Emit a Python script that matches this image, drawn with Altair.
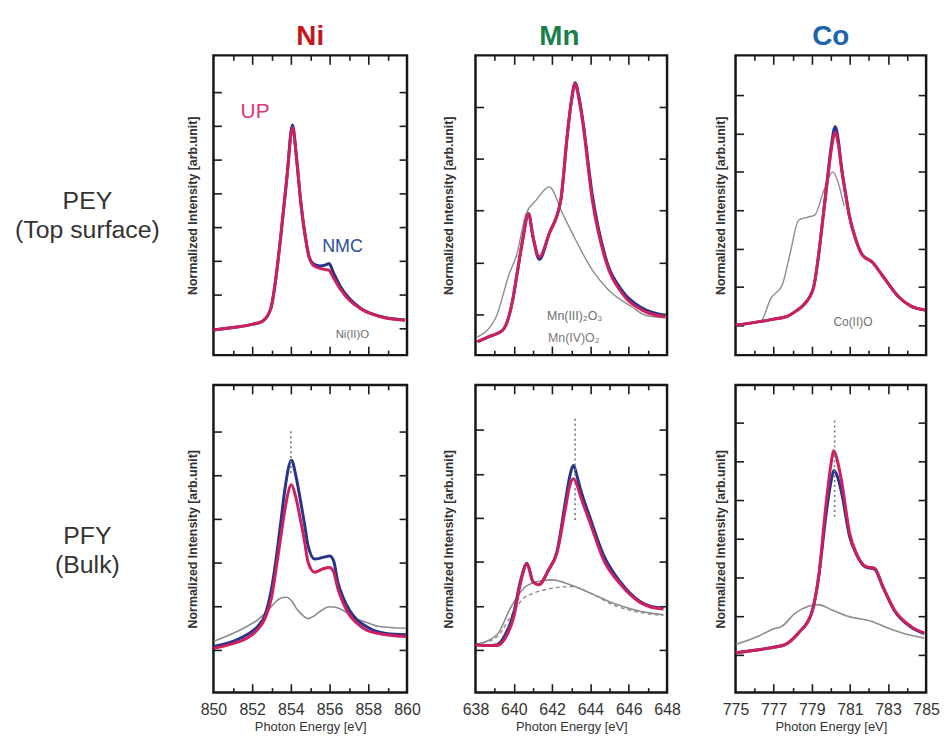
import altair as alt
import pandas as pd

# ---------------- data ----------------
ELEMENTS = ["Ni", "Mn", "Co"]
ROW_LABELS = ["PEY\n(Top surface)", "PFY\n(Bulk)"]

# --- PEY (top surface) ---
NI_PEY_E = [850.0, 851.0, 852.0, 852.55, 852.97, 853.25, 853.5, 853.8, 854.08, 854.3, 854.5,
            854.75, 854.95, 855.2, 855.5, 855.8, 855.97, 856.2, 856.55, 857.0, 857.6, 858.6, 859.9]
NI_PEY_NMC = [0.95, 1.03, 1.12, 1.22, 1.6, 2.6, 3.85, 5.5, 7.02, 6.0, 4.8,
              3.7, 3.1, 2.9, 2.85, 2.88, 2.92, 2.65, 2.25, 1.9, 1.6, 1.36, 1.25]
NI_PEY_UP = [0.95, 1.03, 1.12, 1.22, 1.6, 2.6, 3.85, 5.5, 6.95, 6.0, 4.8,
             3.7, 3.1, 2.85, 2.78, 2.74, 2.72, 2.5, 2.17, 1.85, 1.58, 1.35, 1.24]

MN_PEY_E = [638.1, 638.8, 639.42, 639.94, 640.2, 640.46, 640.77, 641.0, 641.33, 641.85, 642.45,
            642.8, 643.0, 643.2, 643.4, 643.58, 644.1, 644.79, 645.66, 646.7, 647.91]
MN_PEY_NMC = [0.47, 0.58, 0.69, 1.27, 1.85, 2.43, 2.94, 2.5, 2.06, 2.56, 3.2,
              4.49, 5.1, 5.47, 5.2, 4.8, 3.3, 2.1, 1.45, 1.12, 0.98]
MN_PEY_UP = [0.47, 0.58, 0.69, 1.27, 1.85, 2.43, 2.94, 2.5, 2.11, 2.56, 3.2,
             4.49, 5.1, 5.45, 5.15, 4.75, 3.2, 2.04, 1.40, 1.08, 0.95]
MN_PEY_REF_E = [638.1, 639.08, 639.77, 640.12, 640.64, 641.16, 641.85, 642.55, 643.24, 644.1,
                644.97, 646.18, 646.87, 647.91]
MN_PEY_REF = [0.56, 0.95, 1.79, 2.11, 2.94, 3.2, 3.46, 2.94, 2.43, 1.85,
              1.46, 1.14, 0.98, 0.93]

CO_PEY_E = [775.0, 776.34, 777.0, 777.71, 778.2, 778.57, 779.08, 779.35, 779.6, 779.85, 780.03,
            780.23, 780.4, 780.54, 780.75, 780.97, 781.3, 781.66, 782.17, 782.69, 783.54, 784.23, 784.95]
CO_PEY_NMC = [1.0, 1.1, 1.16, 1.23, 1.38, 1.53, 1.96, 2.8, 3.86, 4.95, 5.7,
              6.18, 5.8, 5.2, 4.5, 3.86, 3.25, 2.83, 2.65, 2.31, 1.75, 1.49, 1.4]
CO_PEY_UP = [1.0, 1.1, 1.16, 1.23, 1.38, 1.53, 1.96, 2.8, 3.86, 4.9, 5.6,
             6.03, 5.7, 5.16, 4.5, 3.86, 3.25, 2.83, 2.65, 2.31, 1.75, 1.49, 1.4]
CO_PEY_REF_E = [775.0, 776.34, 776.85, 777.45, 777.88, 778.31, 778.8, 779.17, 779.6, 780.11, 780.4, 780.7]
CO_PEY_REF = [1.01, 1.12, 1.70, 2.05, 2.91, 3.74, 3.82, 3.88, 4.47, 5.0, 4.7, 4.1]

# --- PFY (bulk) ---
NI_PFY_E = [850.0, 851.0, 851.72, 852.3, 852.66, 853.0, 853.26, 853.5, 853.69, 854.03, 854.25,
            854.46, 854.7, 854.89, 855.23, 855.66, 856.0, 856.2, 856.43, 856.7, 857.03, 857.4,
            857.89, 858.92, 859.95]
NI_PFY_NMC = [1.08, 1.2, 1.35, 1.55, 1.8, 2.4, 3.16, 4.0, 4.67, 5.34, 5.0,
              4.51, 3.9, 3.38, 3.08, 3.12, 3.15, 3.05, 2.55, 2.2, 1.91, 1.7,
              1.54, 1.38, 1.35]
NI_PFY_UP = [1.04, 1.15, 1.27, 1.48, 1.72, 2.2, 2.93, 3.65, 4.21, 4.78, 4.5,
             4.06, 3.5, 3.01, 2.78, 2.86, 2.89, 2.8, 2.40, 2.08, 1.8, 1.62,
             1.46, 1.35, 1.31]
NI_PFY_REF_E = [850.0, 851.0, 851.72, 852.3, 852.75, 853.1, 853.43, 853.77, 854.05, 854.29, 854.6,
                854.89, 855.2, 855.49, 856.0, 856.3, 856.69, 857.0, 857.38, 858.0, 858.58, 859.95]
NI_PFY_REF = [1.2, 1.38, 1.54, 1.7, 1.88, 2.05, 2.18, 2.21, 2.12, 1.95, 1.8,
              1.72, 1.78, 1.88, 1.99, 1.98, 1.91, 1.82, 1.72, 1.62, 1.54, 1.5]

MN_PFY_E = [638.0, 638.6, 639.13, 639.56, 640.0, 640.34, 640.69, 641.0, 641.3, 641.82, 642.25,
            642.69, 642.9, 643.12, 643.3, 643.47, 643.99, 644.68, 645.55, 646.59, 647.1, 647.81]
MN_PFY_NMC = [1.12, 1.1, 1.12, 1.35, 1.85, 2.55, 2.97, 2.55, 2.48, 2.82, 3.23,
              4.36, 4.9, 5.19, 4.95, 4.67, 3.99, 3.16, 2.55, 2.1, 2.0, 1.95]
MN_PFY_UP = [1.12, 1.1, 1.1, 1.27, 1.75, 2.5, 2.95, 2.55, 2.48, 2.82, 3.2,
             4.2, 4.7, 4.89, 4.75, 4.51, 3.88, 3.05, 2.5, 2.08, 1.98, 1.93]
MN_PFY_REF_E = [638.0, 639.13, 639.82, 640.52, 641.21, 641.99, 642.95, 643.99, 645.2, 646.59, 647.81]
MN_PFY_REF = [1.12, 1.35, 1.95, 2.4, 2.55, 2.59, 2.48, 2.29, 2.06, 1.88, 1.8]
MN_PFY_REF2_E = [638.0, 639.13, 639.82, 640.52, 641.04, 641.99, 642.95, 643.99, 645.2, 646.59, 647.81]
MN_PFY_REF2 = [1.12, 1.3, 1.75, 2.18, 2.29, 2.4, 2.44, 2.29, 2.02, 1.85, 1.78]

CO_PFY_E = [775.0, 776.39, 777.0, 777.6, 778.3, 778.99, 779.34, 779.77, 780.0, 780.16, 780.35,
            780.56, 780.99, 781.34, 781.86, 782.29, 782.73, 783.33, 784.2, 784.9]
CO_PFY_NMC = [1.06, 1.15, 1.2, 1.27, 1.57, 2.08, 2.94, 4.7, 5.45, 5.76, 5.6,
              5.2, 4.05, 3.6, 3.26, 3.22, 2.75, 2.15, 1.72, 1.55]
CO_PFY_UP = [1.06, 1.15, 1.2, 1.27, 1.57, 2.08, 2.94, 4.99, 5.9, 6.27, 6.0,
             5.5, 4.14, 3.62, 3.28, 3.24, 2.77, 2.17, 1.74, 1.57]
CO_PFY_REF_E = [775.0, 776.22, 776.91, 777.43, 778.13, 778.82, 779.34, 780.03, 780.9, 782.12,
                782.99, 784.03, 784.9]
CO_PFY_REF = [1.27, 1.49, 1.66, 1.74, 2.08, 2.26, 2.3, 2.17, 2.0, 1.87, 1.7, 1.53, 1.44]

# peak markers (dotted vertical lines, PFY row)
PEAK_E = [854.0, 643.2, 780.2]
PEAK_TOP = [6.0, 6.25, 7.05]
PEAK_BOTTOM = [5.0, 3.9, 4.56]

# axes
X_DOMAINS = [[850, 860], [638, 648], [775, 785]]
X_MAJOR = [[850, 852, 854, 856, 858, 860], [638, 640, 642, 644, 646, 648], [775, 777, 779, 781, 783, 785]]
X_MINOR = [[851, 853, 855, 857, 859], [639, 641, 643, 645, 647], [776, 778, 780, 782, 784]]
PEY_Y_DOMAINS = [[0.21, 9.08], [0.21, 6.0], [0.22, 8.04]]
PEY_Y_TICKS = [[1, 2, 3, 4, 5, 6, 7, 8], [1, 2, 3, 4, 5], [1, 2, 3, 4, 5, 6, 7]]
PFY_Y_DOMAINS = [[0.03, 7.06], [0.03, 7.02], [0.03, 7.97]]
PFY_Y_TICKS = [[1, 2, 3, 4, 5, 6], [1, 2, 3, 4, 5, 6], [1, 2, 3, 4, 5, 6, 7]]

# annotations (PEY row)
ANNOT_TEXT = ["UP", "NMC", "Ni(II)O", "Mn(III)₂O₃", "Mn(IV)O₂", "Co(II)O"]
ANNOT_PANEL = [0, 0, 0, 1, 1, 2]
ANNOT_E = [852.15, 856.67, 857.18, 643.18, 643.13, 781.16]
ANNOT_I = [7.41, 3.42, 0.8, 0.96, 0.54, 1.08]

# ---------------- styles ----------------
FONT = "Arial"
C_UP = "#cf1f5e"
C_NMC = "#27348b"
C_REF = "#8c8c8c"
C_TXT = "#333333"
TITLE_COLORS = ["#c4161c", "#1b7f4d", "#1b64b0"]
TITLE_DX = [0, -12, 0]
ANNOT_COLOR = ["#d8387a", "#2d4c9c", "#6f6f6f", "#6f6f6f", "#7a7a7a", "#6f6f6f"]
ANNOT_SIZE = [21, 18, 11.5, 12.5, 12.5, 12]
YTITLE_PAD = [14, 20, 8]

WIDTHS = [195, 193, 192]
H_ROWS = [302, 310]
LABEL_W = 138
LABEL_Y = [147, 152]
COL_SPACING = 69
ROW_SPACING = 30

CURVES = {
    (0, 0): [(NI_PEY_E, NI_PEY_NMC, C_NMC, 3, None), (NI_PEY_E, NI_PEY_UP, C_UP, 3, None)],
    (0, 1): [(MN_PEY_REF_E, MN_PEY_REF, C_REF, 1.4, None),
             (MN_PEY_E, MN_PEY_NMC, C_NMC, 3, None), (MN_PEY_E, MN_PEY_UP, C_UP, 3, None)],
    (0, 2): [(CO_PEY_REF_E, CO_PEY_REF, C_REF, 1.4, None),
             (CO_PEY_E, CO_PEY_NMC, C_NMC, 3, None), (CO_PEY_E, CO_PEY_UP, C_UP, 3, None)],
    (1, 0): [(NI_PFY_REF_E, NI_PFY_REF, C_REF, 1.6, None),
             (NI_PFY_E, NI_PFY_NMC, C_NMC, 3, None), (NI_PFY_E, NI_PFY_UP, C_UP, 3, None)],
    (1, 1): [(MN_PFY_REF_E, MN_PFY_REF, C_REF, 1.6, None),
             (MN_PFY_REF2_E, MN_PFY_REF2, C_REF, 1.4, [4, 3]),
             (MN_PFY_E, MN_PFY_NMC, C_NMC, 3, None), (MN_PFY_E, MN_PFY_UP, C_UP, 3, None)],
    (1, 2): [(CO_PFY_REF_E, CO_PFY_REF, C_REF, 1.6, None),
             (CO_PFY_E, CO_PFY_NMC, C_NMC, 3, None), (CO_PFY_E, CO_PFY_UP, C_UP, 3, None)],
}


def tick_axis(orient, offset, values, size):
    return alt.Axis(orient=orient, offset=offset, values=values, tickSize=size, tickWidth=1.6,
                    tickColor="#1a1a1a", labels=False, domain=False, grid=False, title=None)


def make_panel(row, i):
    H = H_ROWS[row]
    W = WIDTHS[i]
    xdom = X_DOMAINS[i]
    ydom = PEY_Y_DOMAINS[i] if row == 0 else PFY_Y_DOMAINS[i]
    yt = PEY_Y_TICKS[i] if row == 0 else PFY_Y_TICKS[i]
    xs = alt.Scale(domain=xdom, nice=False, zero=False)
    ys = alt.Scale(domain=ydom, nice=False, zero=False)

    layers = []
    for (ex, iy, col, sw, dash) in CURVES[(row, i)]:
        df = pd.DataFrame({"E": ex, "I": iy})
        kw = dict(color=col, strokeWidth=sw, clip=True, interpolate="monotone")
        if dash:
            kw["strokeDash"] = dash
        layers.append(alt.Chart(df).mark_line(**kw).encode(
            x=alt.X("E:Q", scale=xs, axis=None), y=alt.Y("I:Q", scale=ys, axis=None)))

    if row == 1:
        pk = pd.DataFrame({"E": [PEAK_E[i]], "top": [PEAK_TOP[i]], "bot": [PEAK_BOTTOM[i]]})
        layers.append(alt.Chart(pk).mark_rule(color="#777777", strokeWidth=1.6, strokeDash=[2, 3]).encode(
            x=alt.X("E:Q", scale=xs, axis=None), y=alt.Y("top:Q", scale=ys, axis=None), y2="bot:Q"))
    else:
        for k, txt in enumerate(ANNOT_TEXT):
            if ANNOT_PANEL[k] != i:
                continue
            adf = pd.DataFrame({"E": [ANNOT_E[k]], "I": [ANNOT_I[k]], "t": [txt]})
            layers.append(alt.Chart(adf).mark_text(
                color=ANNOT_COLOR[k], fontSize=ANNOT_SIZE[k], font=FONT, align="center",
                baseline="middle").encode(
                x=alt.X("E:Q", scale=xs, axis=None), y=alt.Y("I:Q", scale=ys, axis=None), text="t:N"))

    frame_df = pd.DataFrame({"E": xdom, "I": ydom})
    base = alt.Chart(frame_df).mark_line(strokeOpacity=0)

    if row == 1:
        xaxis = alt.Axis(orient="bottom", values=X_MAJOR[i], tickSize=0, domain=False, grid=False,
                         labels=True, labelFontSize=16, labelColor=C_TXT, labelPadding=9,
                         labelFont=FONT, labelFlush=False, format="d",
                         title="Photon Energy [eV]", titleFontSize=13, titleFontWeight="normal",
                         titleColor=C_TXT, titleFont=FONT, titlePadding=3)
    else:
        xaxis = alt.Axis(orient="bottom", values=X_MAJOR[i], tickSize=0, domain=False, grid=False,
                         labels=False, title=None)
    yaxis = alt.Axis(orient="left", ticks=False, labels=False, domain=False, grid=False,
                     title="Normalized Intensity [arb.unit]", titleFontSize=12.5,
                     titleFontWeight="bold", titleColor=C_TXT, titleFont=FONT,
                     titlePadding=YTITLE_PAD[i])
    layers.append(base.encode(x=alt.X("E:Q", scale=xs, axis=xaxis),
                              y=alt.Y("I:Q", scale=ys, axis=yaxis)))

    inner_major = [v for v in X_MAJOR[i] if xdom[0] < v < xdom[1]]
    for orient, vals, size in [("top", inner_major, 9), ("top", X_MINOR[i], 5),
                               ("bottom", inner_major, 9), ("bottom", X_MINOR[i], 5)]:
        layers.append(base.encode(x=alt.X("E:Q", scale=xs, axis=tick_axis(orient, -H, vals, size)),
                                  y=alt.Y("I:Q", scale=ys, axis=None)))
    for orient in ["right", "left"]:
        layers.append(base.encode(x=alt.X("E:Q", scale=xs, axis=None),
                                  y=alt.Y("I:Q", scale=ys, axis=tick_axis(orient, -W, yt, 8))))

    ch = alt.layer(*layers).resolve_axis(x="independent", y="independent").properties(
        width=W, height=H, view=alt.ViewBackground(stroke="#161616", strokeWidth=2.5))
    if row == 0:
        ch = ch.properties(title=alt.TitleParams(
            text=ELEMENTS[i], color=TITLE_COLORS[i], fontSize=28, fontWeight="bold", font=FONT,
            offset=4, anchor="middle", dx=TITLE_DX[i]))
    return ch


def make_label(row):
    df = pd.DataFrame({"t": [ROW_LABELS[row]]})
    return alt.Chart(df).mark_text(lineBreak="\n", fontSize=25, font=FONT, color=C_TXT, align="center",
                                   baseline="middle", lineHeight=29).encode(
        text="t:N", x=alt.value(80), y=alt.value(LABEL_Y[row])).properties(
        width=LABEL_W, height=H_ROWS[row], view=alt.ViewBackground(strokeOpacity=0))


cells = []
for r in range(2):
    cells.append(make_label(r))
    cells.extend(make_panel(r, i) for i in range(3))

chart = alt.concat(
    *cells, columns=4, spacing=alt.RowColnumber(row=ROW_SPACING, column=COL_SPACING),
    bounds="flush", align="each"
).properties(
    padding={"left": 0, "top": 10, "right": 0, "bottom": 0}
).configure(font=FONT).configure_view(stroke="#161616", strokeWidth=2.5)

chart.save("out.html", embed_options={"renderer": "svg", "actions": False})
